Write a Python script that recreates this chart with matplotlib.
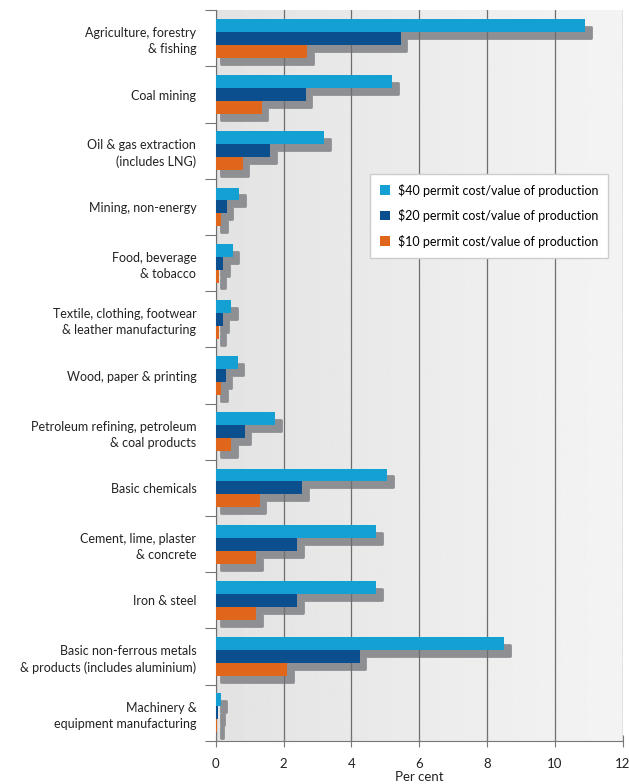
import matplotlib.pyplot as plt
import matplotlib.transforms as mtransforms
import numpy as np

sectors = ["Agriculture, forestry\n& fishing", "Coal mining",
           "Oil & gas extraction\n(includes LNG)", "Mining, non-energy",
           "Food, beverage\n& tobacco", "Textile, clothing, footwear\n& leather manufacturing",
           "Wood, paper & printing", "Petroleum refining, petroleum\n& coal products",
           "Basic chemicals", "Cement, lime, plaster\n& concrete", "Iron & steel",
           "Basic non-ferrous metals\n& products (includes aluminium)",
           "Machinery &\nequipment manufacturing"]
cost40 = [10.9, 5.2, 3.2, 0.7, 0.5, 0.45, 0.65, 1.75, 5.05, 4.73, 4.73, 8.5, 0.15]
cost20 = [5.45, 2.65, 1.6, 0.32, 0.22, 0.2, 0.3, 0.85, 2.55, 2.4, 2.4, 4.25, 0.07]
cost10 = [2.7, 1.35, 0.8, 0.16, 0.11, 0.1, 0.16, 0.45, 1.3, 1.2, 1.2, 2.1, 0.04]
series_labels = ["$40 permit cost/value of production",
                 "$20 permit cost/value of production",
                 "$10 permit cost/value of production"]
colors = ["#14a0d2", "#0b4f8e", "#e0661c"]

plt.rcParams['font.family'] = ['Lato', 'DejaVu Sans']
fig = plt.figure(figsize=(6.29, 7.84), dpi=100)
ax = fig.add_axes([0.343, 0.055, 0.647, 0.932])

# light grey gradient background
grad = np.linspace(0.89, 0.955, 256).reshape(1, -1)
ax.imshow(grad, extent=[0, 12, 13, 0], aspect='auto', cmap='gray',
          vmin=0, vmax=1, zorder=0)

y = np.arange(len(sectors)) + 0.5
h = 0.23
offsets = [-h, 0, h]
# drop shadow: same bars shifted right and down, rounded corners
shadow = ax.transData + mtransforms.ScaledTranslation(4/72, -5/72, fig.dpi_scale_trans)

for vals, off in zip([cost40, cost20, cost10], offsets):
    bars = ax.barh(y + off, vals, height=h * 0.85, color="#8e8f92", zorder=2,
                   edgecolor="#8e8f92", linewidth=2)
    for b in bars:
        b.set_transform(shadow)
        b.set_joinstyle('round')

for vals, off, c, lab in zip([cost40, cost20, cost10], offsets, colors, series_labels):
    ax.barh(y + off, vals, height=h, color=c, zorder=3, label=lab)

ax.set_xlim(0, 12)
ax.set_ylim(13, 0)
ax.set_xticks(range(0, 13, 2))
ax.xaxis.grid(True, color="#6e6e6e", linewidth=0.9, zorder=1)
ax.set_axisbelow(False)
ax.set_yticks(np.arange(0, 14))
ax.set_yticklabels([])
ax.set_yticks(y, minor=True)
ax.set_yticklabels(sectors, minor=True, fontsize=9, color="#222222", linespacing=1.4)
ax.tick_params(axis='y', which='minor', length=0, pad=14)
ax.tick_params(axis='y', which='major', length=8, color="#777777")
ax.tick_params(axis='x', direction='inout', length=8, color="#777777",
               labelsize=9.5, labelcolor="#222222", pad=8)
ax.set_xlabel("Per cent", fontsize=9.5, color="#222222", labelpad=1)
for s in ['top', 'right']:
    ax.spines[s].set_visible(False)
ax.spines['left'].set_color("#777777")
ax.spines['bottom'].set_color("#777777")

leg = ax.legend(loc='upper right', bbox_to_anchor=(0.98, 0.785), fontsize=9,
                handlelength=0.8, handleheight=0.8, frameon=True, fancybox=False,
                borderpad=0.8, labelspacing=1.0, handletextpad=0.6)
leg.get_frame().set_edgecolor("#cccccc")
leg.get_frame().set_facecolor("white")
leg.get_frame().set_alpha(1)

fig.savefig("out.png", dpi=100)
